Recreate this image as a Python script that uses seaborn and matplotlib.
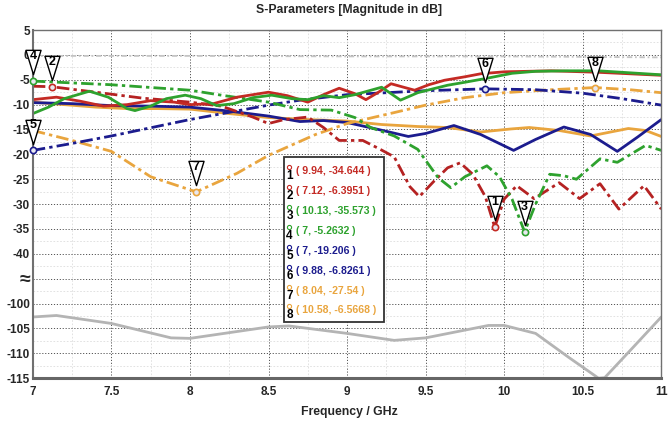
import matplotlib
matplotlib.use('Agg')
import matplotlib.pyplot as plt
import matplotlib.transforms as mtransforms
from matplotlib import font_manager
from matplotlib.path import Path
from matplotlib.patches import Rectangle
import seaborn as sns

# ---- data (frequency in GHz, magnitude in dB) ----
red_solid_f = [7.0, 7.15, 7.3, 7.45, 7.6, 7.75, 7.9, 8.0, 8.15, 8.3, 8.5, 8.62, 8.75, 8.85, 8.95,
               9.05, 9.12, 9.2, 9.28, 9.36, 9.43, 9.52, 9.62, 9.75, 9.85, 10.0, 10.3, 10.6, 10.8, 11.0]
red_solid_db = [-9.0, -8.5, -9.3, -10.3, -10.0, -9.2, -9.5, -10.0, -9.8, -8.5, -7.5, -8.2, -9.5, -8.0, -6.7,
                -7.8, -9.0, -7.5, -5.8, -6.5, -7.1, -6.0, -5.1, -4.4, -3.8, -3.4, -3.2, -3.5, -3.8, -4.1]

green_solid_f = [7.0, 7.1, 7.2, 7.36, 7.48, 7.6, 7.65, 7.75, 7.85, 7.97, 8.07, 8.17, 8.28, 8.4, 8.52,
                 8.65, 8.75, 8.85, 8.95, 9.05, 9.22, 9.34, 9.45, 9.55, 9.64, 9.75, 9.89, 10.05, 10.2,
                 10.4, 10.6, 10.8, 11.0]
green_solid_db = [-11.8, -10.5, -8.8, -7.3, -8.5, -10.8, -11.2, -10.3, -8.8, -8.1, -8.8, -10.2, -9.8, -8.6,
                  -8.1, -8.8, -9.0, -8.2, -8.6, -8.0, -6.5, -9.1, -7.6, -6.8, -6.1, -5.5, -4.7, -3.7,
                  -3.3, -3.2, -3.2, -3.6, -4.0]

blue_solid_f = [7.0, 7.25, 7.5, 7.75, 8.0, 8.25, 8.5, 8.7, 8.85, 9.0, 9.2, 9.39, 9.5, 9.68, 9.85,
                10.06, 10.2, 10.38, 10.55, 10.72, 10.85, 11.0]
blue_solid_db = [-9.6, -9.8, -10.2, -10.3, -10.5, -11.3, -12.3, -13.4, -13.2, -13.6, -15.0, -16.4,
                 -15.8, -14.2, -16.0, -19.2, -17.0, -14.5, -16.0, -19.4, -16.5, -13.0]

orange_solid_f = [7.0, 7.2, 7.4, 7.6, 7.8, 8.0, 8.25, 8.5, 8.75, 9.0, 9.22, 9.45, 9.64, 9.85, 10.04,
                  10.16, 10.35, 10.55, 10.79, 10.9, 11.0]
orange_solid_db = [-9.5, -10.0, -10.5, -10.8, -10.8, -10.9, -11.8, -12.6, -13.0, -13.3, -14.0, -14.4,
                   -14.6, -15.5, -14.9, -14.6, -15.2, -16.3, -14.8, -15.2, -16.4]

red_dd_f = [7.0, 7.12, 7.4, 7.7, 8.0, 8.2, 8.4, 8.5, 8.6, 8.75, 8.85, 8.95, 9.1, 9.2, 9.3, 9.4, 9.46,
            9.55, 9.64, 9.72, 9.8, 9.88, 9.94, 10.0, 10.08, 10.19, 10.35, 10.48, 10.61, 10.73, 10.89, 11.0]
red_dd_db = [-6.3, -6.3951, -7.5, -8.7, -9.5, -10.3, -12.5, -13.8, -13.0, -12.5, -14.6, -17.2, -17.2,
             -18.8, -20.5, -26.5, -28.5, -25.5, -22.7, -21.7, -24.0, -28.5, -34.644, -29.0, -26.3,
             -28.9, -25.7, -28.9, -25.9, -31.0, -26.3, -31.0]

green_dd_f = [7.0, 7.5, 8.0, 8.2, 8.5, 8.7, 8.9, 9.05, 9.15, 9.3, 9.45, 9.58, 9.66, 9.75, 9.89, 9.97,
              10.05, 10.13, 10.2, 10.29, 10.38, 10.46, 10.61, 10.72, 10.9, 11.0]
green_dd_db = [-5.2632, -6.0, -7.1, -8.1, -9.5, -11.0, -11.1, -12.6, -14.6, -16.3, -19.0, -24.7, -26.7,
               -24.5, -22.3, -24.5, -29.0, -35.573, -30.0, -24.0, -24.3, -25.0, -20.9, -21.6, -18.2, -19.2]

blue_dd_f = [7.0, 7.25, 7.5, 8.0, 8.5, 8.7, 9.0, 9.5, 9.88, 10.2, 10.5, 10.75, 11.0]
blue_dd_db = [-19.206, -17.8, -16.3, -13.0, -10.1, -9.1, -8.0, -7.2, -6.8261, -7.0, -7.7, -8.8, -10.1]

orange_dd_f = [7.0, 7.25, 7.5, 7.75, 8.04, 8.3, 8.5, 8.8, 9.0, 9.3, 9.5, 9.75, 10.0, 10.3, 10.58,
               10.8, 11.0]
orange_dd_db = [-15.2, -17.2, -19.4, -24.5, -27.54, -23.8, -20.2, -16.0, -13.8, -11.6, -10.1, -8.6,
                -7.6, -7.0, -6.5668, -7.0, -7.6]

gray_dash_f = [7.0, 8.0, 9.0, 10.0, 11.0]
gray_dash_db = [-0.2, -0.2, -0.3, -0.3, -0.5]

# the grey curve lives below the axis break
gray_low_f = [7.0, 7.15, 7.5, 7.88, 8.0, 8.5, 8.63, 9.0, 9.3, 9.5, 9.9, 10.0, 10.2, 10.41, 10.6,
              10.64, 10.8, 11.0]
gray_low_db = [-102.7, -102.4, -104.0, -106.9, -107.0, -104.7, -104.5, -106.0, -107.4, -106.9,
               -104.4, -104.4, -106.0, -110.8, -115.0, -114.9, -109.5, -102.7]

marker_ids = ['1', '2', '3', '4', '5', '6', '7', '8']
marker_f = [9.94, 7.12, 10.13, 7, 7, 9.88, 8.04, 10.58]
marker_db = [-34.644, -6.3951, -35.573, -5.2632, -19.206, -6.8261, -27.54, -6.5668]
marker_labels = ['( 9.94, -34.644 )', '( 7.12, -6.3951 )', '( 10.13, -35.573 )', '( 7, -5.2632 )',
                 '( 7, -19.206 )', '( 9.88, -6.8261 )', '( 8.04, -27.54 )', '( 10.58, -6.5668 )']

x_ticks = [7, 7.5, 8, 8.5, 9, 9.5, 10, 10.5, 11]
x_tick_labels = ['7', '7.5', '8', '8.5', '9', '9.5', '10', '10.5', '11']
y_tick_labels = ['5', '0', '-5', '-10', '-15', '-20', '-25', '-30', '-35', '-40', '\u2248',
                 '-100', '-105', '-110', '-115']

BREAK_SHIFT = 50  # -100 dB is drawn where -50 would be

RED = '#c42a24'
GREEN = '#2ea22e'
BLUE = '#1c1c8e'
ORANGE = '#e9a53e'
GRAY = '#b4b4b4'
marker_colors = [RED, RED, GREEN, GREEN, BLUE, BLUE, ORANGE, ORANGE]

sns.set_style('white')
names = {f.name for f in font_manager.fontManager.ttflist}
FONT = 'Liberation Sans' if 'Liberation Sans' in names else 'DejaVu Sans'
plt.rcParams['font.family'] = [FONT, 'DejaVu Sans']

fig = plt.figure(figsize=(6.7, 4.23), dpi=100)
ax = fig.add_axes([0.049, 0.106, 0.938, 0.823])

dd = (0, (4.5, 1.5, 1.2, 1.5))
sns.lineplot(x=gray_dash_f, y=gray_dash_db, ax=ax, color='#c4c4c4', lw=1.3, linestyle=(0, (3, 1.5, 1, 1.5)))
sns.lineplot(x=gray_low_f, y=[v + BREAK_SHIFT for v in gray_low_db], ax=ax, color=GRAY, lw=2)
sns.lineplot(x=orange_solid_f, y=orange_solid_db, ax=ax, color=ORANGE, lw=2)
sns.lineplot(x=blue_solid_f, y=blue_solid_db, ax=ax, color=BLUE, lw=2)
sns.lineplot(x=orange_dd_f, y=orange_dd_db, ax=ax, color=ORANGE, lw=2, linestyle=dd)
sns.lineplot(x=blue_dd_f, y=blue_dd_db, ax=ax, color=BLUE, lw=2, linestyle=dd)
sns.lineplot(x=red_dd_f, y=red_dd_db, ax=ax, color='#b52222', lw=2, linestyle=dd)
sns.lineplot(x=green_dd_f, y=green_dd_db, ax=ax, color=GREEN, lw=2, linestyle=dd)
sns.lineplot(x=red_solid_f, y=red_solid_db, ax=ax, color=RED, lw=2)
sns.lineplot(x=green_solid_f, y=green_solid_db, ax=ax, color=GREEN, lw=2)

ax.set_xlim(7, 11)
ax.set_ylim(-115 + BREAK_SHIFT, 5)
ax.set_xticks(x_ticks)
ax.set_xticklabels(x_tick_labels)
y_pos = [5 - 5 * i for i in range(len(y_tick_labels))]
ax.set_yticks(y_pos)
ax.set_yticklabels(y_tick_labels)
for lab in ax.get_xticklabels() + ax.get_yticklabels():
    lab.set_fontweight('bold')
    lab.set_fontsize(8.5)
ax.get_yticklabels()[10].set_fontsize(14)
ax.tick_params(axis='y', length=0, pad=2)
ax.tick_params(axis='x', length=0, pad=6)

ax.set_xticks([7.25 + 0.5 * i for i in range(8)], minor=True)
ax.set_yticks([2.5 - 5 * i for i in range(14)], minor=True)
ax.grid(True, which='major', color='#555555', lw=0.7, linestyle=(0, (1.2, 1.8)))
ax.grid(True, which='minor', color='#dddddd', lw=0.6, linestyle=(0, (2, 2)))
ax.set_axisbelow(True)
for s in ax.spines.values():
    s.set_color('#707070')
    s.set_linewidth(1.0)
ax.spines['bottom'].set_linewidth(2.2)
ax.spines['bottom'].set_color('#666666')
ax.spines['left'].set_linewidth(1.5)

# marker points with their flag triangles
flag = Path([(-0.62, 1), (0.62, 1), (0, -1), (-0.62, 1)],
            [Path.MOVETO, Path.LINETO, Path.LINETO, Path.CLOSEPOLY])
flag_tr = mtransforms.offset_copy(ax.transData, fig=fig, x=0, y=13.5, units='points')
text_tr = mtransforms.offset_copy(ax.transData, fig=fig, x=0, y=18, units='points')
for mid, f, v, c in zip(marker_ids, marker_f, marker_db, marker_colors):
    ax.plot([f], [v], marker='o', ms=4.5, mfc='#e8e8f0', mec=c, mew=1.2, clip_on=False, zorder=6)
    ax.plot([f], [v], marker=flag, ms=17.5, mfc='white', mec='black', mew=1.0,
            transform=flag_tr, clip_on=False, zorder=7)
    ax.text(f, v, mid, transform=text_tr, ha='center', va='center', fontsize=9,
            fontweight='bold', color='black', zorder=8)

# marker table
px0, px1 = 33, 662


def ax_xy(px, py):
    return (px - px0) / (px1 - px0), (378 - py) / 348


x0, y0 = ax_xy(284, 322)
x1, y1 = ax_xy(384, 157)
ax.add_patch(Rectangle((x0, y0), x1 - x0, y1 - y0, transform=ax.transAxes, facecolor='white',
                       edgecolor='#333333', lw=1.3, zorder=9))
for i, (mid, lab, c) in enumerate(zip(marker_ids, marker_labels, marker_colors)):
    py = 171 + 19.9 * i
    cx, cy = ax_xy(289, py - 4)
    ax.plot([cx], [cy], marker='o', ms=3, mfc='none', mec=c, mew=0.8, transform=ax.transAxes, zorder=10)
    dx, dy = ax_xy(290, py + 5)
    ax.text(dx, dy, mid, transform=ax.transAxes, ha='center', va='center', fontsize=8.5,
            fontweight='bold', color='black', zorder=10)
    tx, ty = ax_xy(296, py)
    ax.text(tx, ty, lab, transform=ax.transAxes, ha='left', va='center', fontsize=7.6,
            fontweight='bold', color=c, zorder=10)

fig.text(0.521, 0.976, 'S-Parameters [Magnitude in dB]', ha='center', va='center',
         fontsize=8.8, fontweight='bold')
fig.text(0.521, 0.026, 'Frequency / GHz', ha='center', va='center', fontsize=8.8, fontweight='bold')

fig.savefig('out.png', dpi=100)
